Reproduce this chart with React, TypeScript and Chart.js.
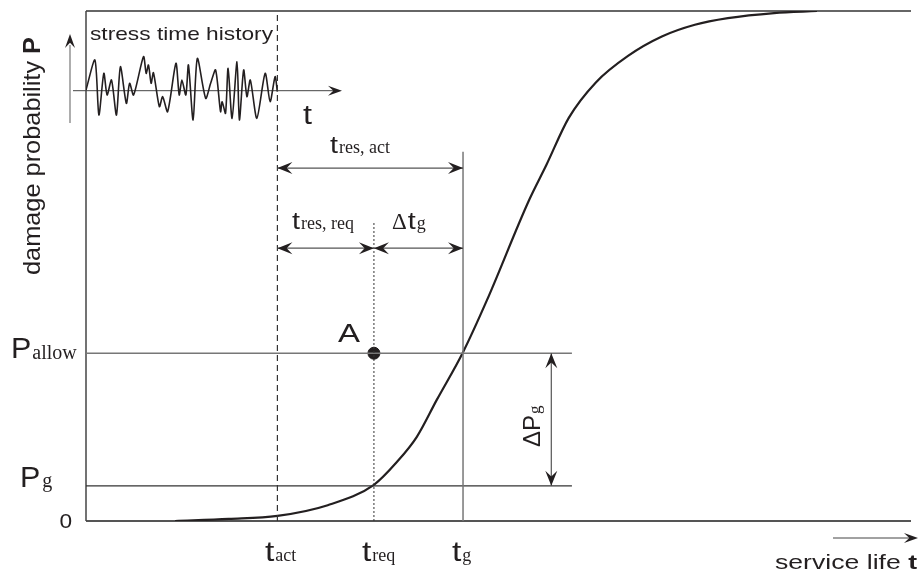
import React, { useEffect, useRef } from "react";
import { Chart, registerables } from "chart.js";
Chart.register(...registerables);

// ---- data (schematic) ----
// service life t (0..100 across plot), damage probability P (0..100 %)
const curveT = [10.8, 17.3, 23.2, 29.3, 34.9, 37.7, 40.1, 42.5, 45.7, 48.6, 53.7, 55.8, 58.5, 61.8, 65.7, 69.8, 73.8, 77.8, 83.4, 88.6];
const curveP = [0, 0.4, 1.0, 3.1, 7.1, 11.6, 16.5, 23.7, 33.1, 43.3, 62.9, 69.8, 79.0, 86.0, 91.2, 95.0, 97.3, 98.6, 99.6, 100];

const tAct = 23.2;
const tReq = 34.9;
const tG = 45.7;
const pAllow = 32.9;
const pG = 6.9;

// stress time history (inset signal): time and amplitude
const stressTime = [0, 9, 13, 18, 21.3, 25.7, 30.7, 34.7, 40.7, 44, 48, 58, 60.7, 63, 65.7, 68, 74, 77.3, 82.3, 90.7, 94, 96.7, 100.7, 103.3, 108, 112.3, 120.7, 125.7, 130.7, 135.7, 137.3, 140.7, 143.3, 147.3, 152.3, 154.7, 159, 162.3, 165.7, 172.3, 180.7, 185.7, 190.7, 193];
const stressAmp = [0.7, 30.7, -24.3, 17.4, -4.3, 10.7, -24.3, 24, -12.6, 7.4, -4.3, 34, 17.4, 25.7, 7.4, 18, -16, -6, -21, 27.4, -4.3, 10.7, -4.3, 25.7, -29.3, 32.4, -7.6, 7.4, 20.7, -21, -11, -22.6, 22.4, -27.6, 29, -29.3, 20.7, -6, 10.7, -27.6, 17.4, -11, 14, -1];

// ---- geometry of guides (in data units) ----
const tReqLineTop = 58.6;
const tGLineTop = 72.4;
const hLineEnd = 58.9;
const arrowActY = 69.2;
const arrowReqY = 53.5;
const dPArrowX = 56.4;

const INK = "#231f20";
const SANS = "'Liberation Sans', Arial, Helvetica, sans-serif";
const SERIF = "'Liberation Serif', 'Times New Roman', serif";

function txt(ctx: CanvasRenderingContext2D, s: string, x: number, y: number, font: string, o: { sx?: number; w?: number; align?: string; color?: string } = {}) {
  ctx.save();
  ctx.font = font;
  ctx.fillStyle = o.color || INK;
  ctx.textBaseline = "alphabetic";
  ctx.textAlign = "left";
  const m = ctx.measureText(s).width;
  const sx = o.w ? o.w / m : o.sx || 1;
  const we = m * sx;
  let left = x;
  if (o.align === "right") left = x - we;
  else if (o.align === "center") left = x - we / 2;
  ctx.translate(left, y);
  ctx.scale(sx, 1);
  ctx.fillText(s, 0, 0);
  ctx.restore();
  return we;
}

function head(ctx: CanvasRenderingContext2D, tx: number, ty: number, ang: number, len = 15, half = 6) {
  const dx = Math.cos(ang), dy = Math.sin(ang);
  const px = -dy, py = dx;
  ctx.save();
  ctx.fillStyle = INK;
  ctx.beginPath();
  ctx.moveTo(tx, ty);
  ctx.lineTo(tx - dx * len + px * half, ty - dy * len + py * half);
  ctx.lineTo(tx - dx * len * 0.62, ty - dy * len * 0.62);
  ctx.lineTo(tx - dx * len - px * half, ty - dy * len - py * half);
  ctx.closePath();
  ctx.fill();
  ctx.restore();
}

function seg(ctx: CanvasRenderingContext2D, x1: number, y1: number, x2: number, y2: number, color: string, w: number) {
  ctx.save();
  ctx.strokeStyle = color;
  ctx.lineWidth = w;
  ctx.beginPath();
  ctx.moveTo(x1, y1);
  ctx.lineTo(x2, y2);
  ctx.stroke();
  ctx.restore();
}

function dbl(ctx: CanvasRenderingContext2D, x1: number, y1: number, x2: number, y2: number) {
  seg(ctx, x1, y1, x2, y2, "#555", 1.2);
  const a = Math.atan2(y2 - y1, x2 - x1);
  head(ctx, x2, y2, a);
  head(ctx, x1, y1, a + Math.PI);
}

const deco = {
  id: "deco",
  beforeDatasetsDraw(chart: any) {
    const ctx: CanvasRenderingContext2D = chart.ctx;
    const a = chart.chartArea;
    seg(ctx, a.left, a.top, a.right, a.top, "#666", 2);
    seg(ctx, a.left, a.bottom, a.right, a.bottom, "#555", 2);
    seg(ctx, a.left, a.top, a.left, a.bottom, "#444", 1.5);
    // inset time axis
    const ys = chart.scales.ys;
    const base = ys.getPixelForValue(0);
    seg(ctx, 73, base, 338, base, "#444", 1);
    head(ctx, 342, base, 0, 14, 5);
  },
  afterDatasetsDraw(chart: any) {
    const ctx: CanvasRenderingContext2D = chart.ctx;
    const x = chart.scales.x, y = chart.scales.y;
    const X = (v: number) => x.getPixelForValue(v);
    const Y = (v: number) => y.getPixelForValue(v);

    // dimension arrows
    dbl(ctx, X(tAct), Y(arrowActY), X(tG), Y(arrowActY));
    dbl(ctx, X(tAct), Y(arrowReqY), X(tReq), Y(arrowReqY));
    dbl(ctx, X(tReq), Y(arrowReqY), X(tG), Y(arrowReqY));
    dbl(ctx, X(dPArrowX), Y(pAllow), X(dPArrowX), Y(pG));

    // y-axis arrow on the left
    seg(ctx, 70, 123, 70, 45, "#777", 1.2);
    head(ctx, 70, 34, -Math.PI / 2, 14, 5);
    // service life arrow
    seg(ctx, 833, 538, 910, 538, "#444", 1);
    head(ctx, 918, 538, 0, 14, 5);

    // labels
    txt(ctx, "stress time history", 90, 40, `19px ${SANS}`, { w: 183 });
    txt(ctx, "t", 303, 124, `27px ${SANS}`, { sx: 1.2 });

    const tSub = (tx: number, by: number, sub: string, tFont: string, sFont: string, gap = 1) => {
      const w = txt(ctx, "t", tx, by, tFont, { sx: 1.2 });
      txt(ctx, sub, tx + w + gap, by, sFont);
    };
    tSub(330, 153, "res, act", `24px ${SANS}`, `18px ${SERIF}`);
    tSub(292, 229, "res, req", `24px ${SANS}`, `18px ${SERIF}`);
    const wd = txt(ctx, "\u0394", 392, 229, `23px ${SERIF}`);
    tSub(392 + wd + 1, 229, "g", `24px ${SANS}`, `18px ${SERIF}`);

    tSub(265, 561, "act", `28px ${SANS}`, `18px ${SERIF}`);
    tSub(362, 561, "req", `28px ${SANS}`, `18px ${SERIF}`);
    tSub(452, 561, "g", `28px ${SANS}`, `18px ${SERIF}`);

    txt(ctx, "A", 338, 342, `26px ${SANS}`, { w: 22 });

    let w = txt(ctx, "P", 11, 358, `29px ${SANS}`, { sx: 1.05 });
    txt(ctx, "allow", 11 + w + 1, 359, `20px ${SERIF}`);
    w = txt(ctx, "P", 20, 487, `29px ${SANS}`, { sx: 1.05 });
    txt(ctx, "g", 20 + w + 2, 487, `20px ${SERIF}`);
    txt(ctx, "0", 72, 528, `21px ${SANS}`, { align: "right", sx: 1.08 });

    // service life t
    ctx.save();
    ctx.font = `21px ${SANS}`;
    const w1 = ctx.measureText("service life ").width;
    ctx.font = `bold 21px ${SANS}`;
    const w2 = ctx.measureText("t").width;
    ctx.restore();
    const sxS = 142 / (w1 + w2);
    txt(ctx, "service life ", 775, 569, `21px ${SANS}`, { sx: sxS });
    txt(ctx, "t", 775 + w1 * sxS, 569, `bold 21px ${SANS}`, { sx: sxS });

    // rotated y title
    ctx.save();
    ctx.translate(40, 275);
    ctx.rotate(-Math.PI / 2);
    ctx.fillStyle = INK;
    ctx.textBaseline = "alphabetic";
    ctx.font = `24px ${SANS}`;
    const a1 = ctx.measureText("damage probability ").width;
    ctx.font = `bold 24px ${SANS}`;
    const a2 = ctx.measureText("P").width;
    const k = 238 / (a1 + a2);
    ctx.scale(k, 1);
    ctx.font = `24px ${SANS}`;
    ctx.fillText("damage probability ", 0, 0);
    ctx.font = `bold 24px ${SANS}`;
    ctx.fillText("P", a1, 0);
    ctx.restore();

    // rotated ΔPg
    ctx.save();
    ctx.translate(540, 447);
    ctx.rotate(-Math.PI / 2);
    ctx.fillStyle = INK;
    ctx.font = `24px ${SANS}`;
    ctx.fillText("\u0394P", 0, 0);
    const wdp = ctx.measureText("\u0394P").width;
    ctx.font = `17px ${SERIF}`;
    ctx.fillText("g", wdp + 1, 0);
    ctx.restore();
  },
};

export default function App() {
  const ref = useRef<HTMLCanvasElement>(null);
  useEffect(() => {
    const canvas = ref.current!;
    const pts = (xs: number[], ys: number[]) => xs.map((v, i) => ({ x: v, y: ys[i] }));
    const line = (data: any[], color: string, width: number, dash: number[] = []) => ({
      data,
      borderColor: color,
      borderWidth: width,
      borderDash: dash,
      pointRadius: 0,
      fill: false,
      tension: 0,
    });
    const chart = new Chart(canvas, {
      type: "line",
      data: {
        datasets: [
          line([{ x: tAct, y: 0 }, { x: tAct, y: 100 }], "#333", 1.2, [6, 4]),
          line([{ x: tReq, y: 0 }, { x: tReq, y: tReqLineTop }], "#333", 1, [2, 2]),
          line([{ x: tG, y: 0 }, { x: tG, y: tGLineTop }], "#777", 1.5),
          line([{ x: 0, y: pAllow }, { x: hLineEnd, y: pAllow }], "#777", 1.5),
          line([{ x: 0, y: pG }, { x: hLineEnd, y: pG }], "#333", 1.2),
          { ...line(pts(curveT, curveP), INK, 2.2), cubicInterpolationMode: "monotone" },
          { ...line(pts(stressTime, stressAmp), INK, 1.6), tension: 0.25, xAxisID: "xs", yAxisID: "ys" },
          {
            data: [{ x: tReq, y: pAllow }],
            showLine: false,
            pointRadius: 6,
            pointBackgroundColor: INK,
            pointBorderColor: INK,
            borderColor: INK,
          },
        ] as any,
      },
      options: {
        animation: false,
        responsive: false,
        devicePixelRatio: 1,
        events: [],
        layout: { padding: { left: 86, right: 0, top: 11, bottom: 54 } },
        scales: {
          x: { type: "linear", min: 0, max: 100, display: false },
          y: { type: "linear", min: 0, max: 100, display: false },
          xs: { type: "linear", min: 0, max: 832, display: false },
          ys: { type: "linear", min: -430.3, max: 79.7, display: false },
        },
        plugins: { legend: { display: false }, tooltip: { enabled: false }, title: { display: false } },
      } as any,
      plugins: [deco],
    });
    return () => chart.destroy();
  }, []);
  return (
    <div style={{ position: "fixed", left: 0, top: 0, width: 918, height: 575, background: "#fff" }}>
      <canvas ref={ref} width={918} height={575} style={{ display: "block", width: 918, height: 575 }} />
    </div>
  );
}
